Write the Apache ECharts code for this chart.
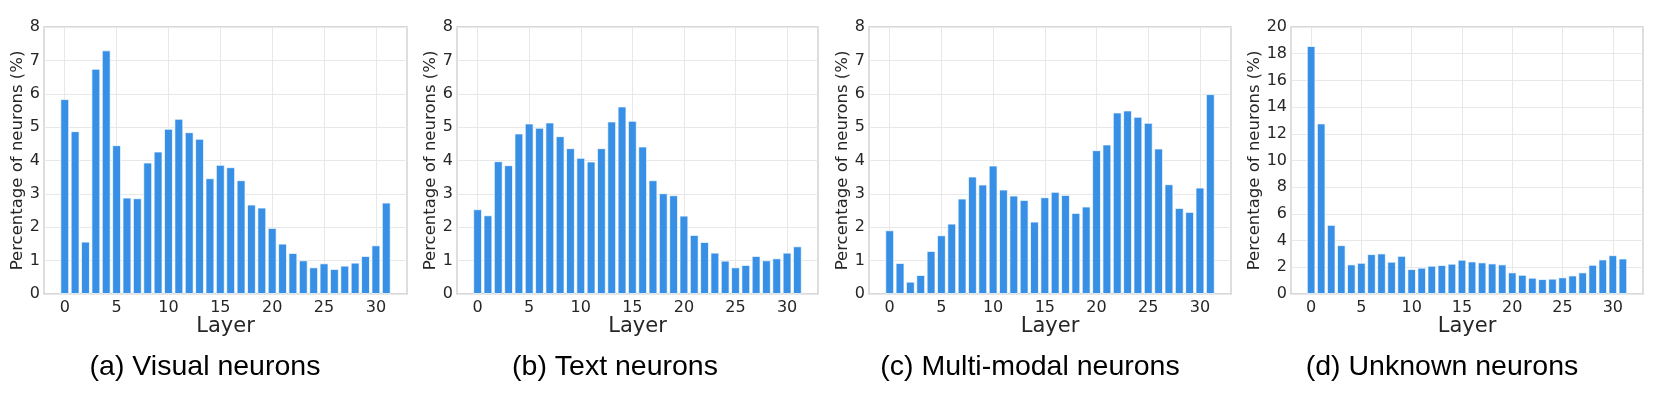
<!DOCTYPE html>
<html>
<head>
<meta charset="utf-8">
<script src="https://cdn.jsdelivr.net/npm/echarts@6/dist/echarts.min.js"></script>
<style>
  html, body { margin: 0; padding: 0; background: #fff; }
  #chart { width: 1661px; height: 393px; }
</style>
</head>
<body>
<div id="chart"></div>
<script>
var layers = [0, 1, 2, 3, 4, 5, 6, 7, 8, 9, 10, 11, 12, 13, 14, 15,
  16, 17, 18, 19, 20, 21, 22, 23, 24, 25, 26, 27, 28, 29, 30, 31];

var visual = [5.84, 4.88, 1.57, 6.75, 7.30, 4.46, 2.89, 2.87, 3.94, 4.27, 4.95, 5.25, 4.85, 4.65, 3.47, 3.87,
  3.80, 3.41, 2.68, 2.59, 1.98, 1.51, 1.23, 1.01, 0.80, 0.92, 0.75, 0.85, 0.94, 1.14, 1.46, 2.74];
var text = [2.54, 2.36, 3.98, 3.86, 4.81, 5.11, 4.98, 5.14, 4.73, 4.37, 4.08, 3.97, 4.37, 5.17, 5.62, 5.19,
  4.42, 3.41, 3.02, 2.96, 2.35, 1.77, 1.56, 1.24, 1.00, 0.80, 0.87, 1.14, 1.01, 1.07, 1.24, 1.43];
var multimodal = [1.91, 0.93, 0.37, 0.57, 1.29, 1.76, 2.11, 2.86, 3.52, 3.28, 3.85, 3.13, 2.95, 2.82, 2.17, 2.90,
  3.06, 2.97, 2.43, 2.62, 4.31, 4.48, 5.44, 5.50, 5.31, 5.13, 4.36, 3.29, 2.58, 2.46, 3.19, 5.99];
var unknown = [18.58, 12.78, 5.18, 3.66, 2.22, 2.34, 2.99, 3.04, 2.42, 2.86, 1.87, 1.97, 2.12, 2.17, 2.27, 2.57,
  2.44, 2.37, 2.29, 2.22, 1.62, 1.44, 1.22, 1.12, 1.15, 1.25, 1.39, 1.62, 2.19, 2.59, 2.91, 2.66];

var xTicks = [0, 5, 10, 15, 20, 25, 30];
var yMax = [8, 8, 8, 20];
var yStep = [1, 1, 1, 2];
var captions = ['(a) Visual neurons', '(b) Text neurons', '(c) Multi-modal neurons', '(d) Unknown neurons'];
var allData = [visual, text, multimodal, unknown];

// panel placement (px)
var panels = [
  { left: 44, width: 363, nameGap: 18, capX: 205 },
  { left: 457, width: 361, nameGap: 18, capX: 615 },
  { left: 869, width: 362, nameGap: 18, capX: 1030 },
  { left: 1291, width: 352, nameGap: 27, capX: 1442 }
];

var font = 'DejaVu Sans';
var ink = '#262626';

var grids = [], xAxes = [], yAxes = [], series = [], graphics = [];

panels.forEach(function (p, i) {
  grids.push({
    left: p.left, top: 27, width: p.width, height: 267,
    show: true, borderColor: '#cccccc', borderWidth: 1.3, backgroundColor: '#fff'
  });
  xAxes.push({
    type: 'value', gridIndex: i, min: -2, max: 33, interval: 1,
    name: 'Layer', nameLocation: 'middle', nameGap: 22, nameMoveOverlap: false,
    nameTextStyle: { fontFamily: font, fontSize: 21, color: ink },
    axisLine: { show: false }, axisTick: { show: false }, splitLine: { show: false },
    axisLabel: {
      fontFamily: font, fontSize: 16, color: ink, margin: 6,
      formatter: function (v) { return xTicks.indexOf(v) >= 0 ? String(v) : ''; }
    }
  });
  yAxes.push({
    type: 'value', gridIndex: i, min: 0, max: yMax[i], interval: yStep[i],
    name: 'Percentage of neurons (%)', nameLocation: 'middle', nameGap: p.nameGap,
    nameTextStyle: { fontFamily: font, fontSize: 16.5, color: ink },
    axisLine: { show: false }, axisTick: { show: false },
    axisLabel: { fontFamily: font, fontSize: 16, color: ink, margin: 4 },
    splitLine: { lineStyle: { color: '#e8e8e8', width: 1 } }
  });
  // vertical grid lines at the labelled layers, kept under the bars
  series.push({
    type: 'line', xAxisIndex: i, yAxisIndex: i, data: [], z: 1, silent: true,
    markLine: {
      z: 1, silent: true, symbol: ['none', 'none'], label: { show: false },
      lineStyle: { color: '#e8e8e8', type: 'solid', width: 1 },
      animation: false,
      data: xTicks.map(function (t) { return { xAxis: t }; })
    }
  });
  series.push({
    type: 'bar', xAxisIndex: i, yAxisIndex: i, z: 3,
    barWidth: '86%',
    itemStyle: { color: '#3790e5', borderColor: 'rgba(255,255,255,0.7)', borderWidth: 1 },
    data: layers.map(function (l, k) { return [l, allData[i][k]]; })
  });
  graphics.push({
    type: 'text', x: p.capX, y: 367,
    style: {
      text: captions[i], fontFamily: 'Liberation Sans', fontSize: 28.5, fill: '#000',
      textAlign: 'center', textVerticalAlign: 'middle'
    }
  });
});

var chart = echarts.init(document.getElementById('chart'));
chart.setOption({
  animation: false,
  grid: grids,
  xAxis: xAxes,
  yAxis: yAxes,
  series: series,
  graphic: graphics
});
window.addEventListener('resize', function () {
  chart.resize();
});
</script>
</body>
</html>
